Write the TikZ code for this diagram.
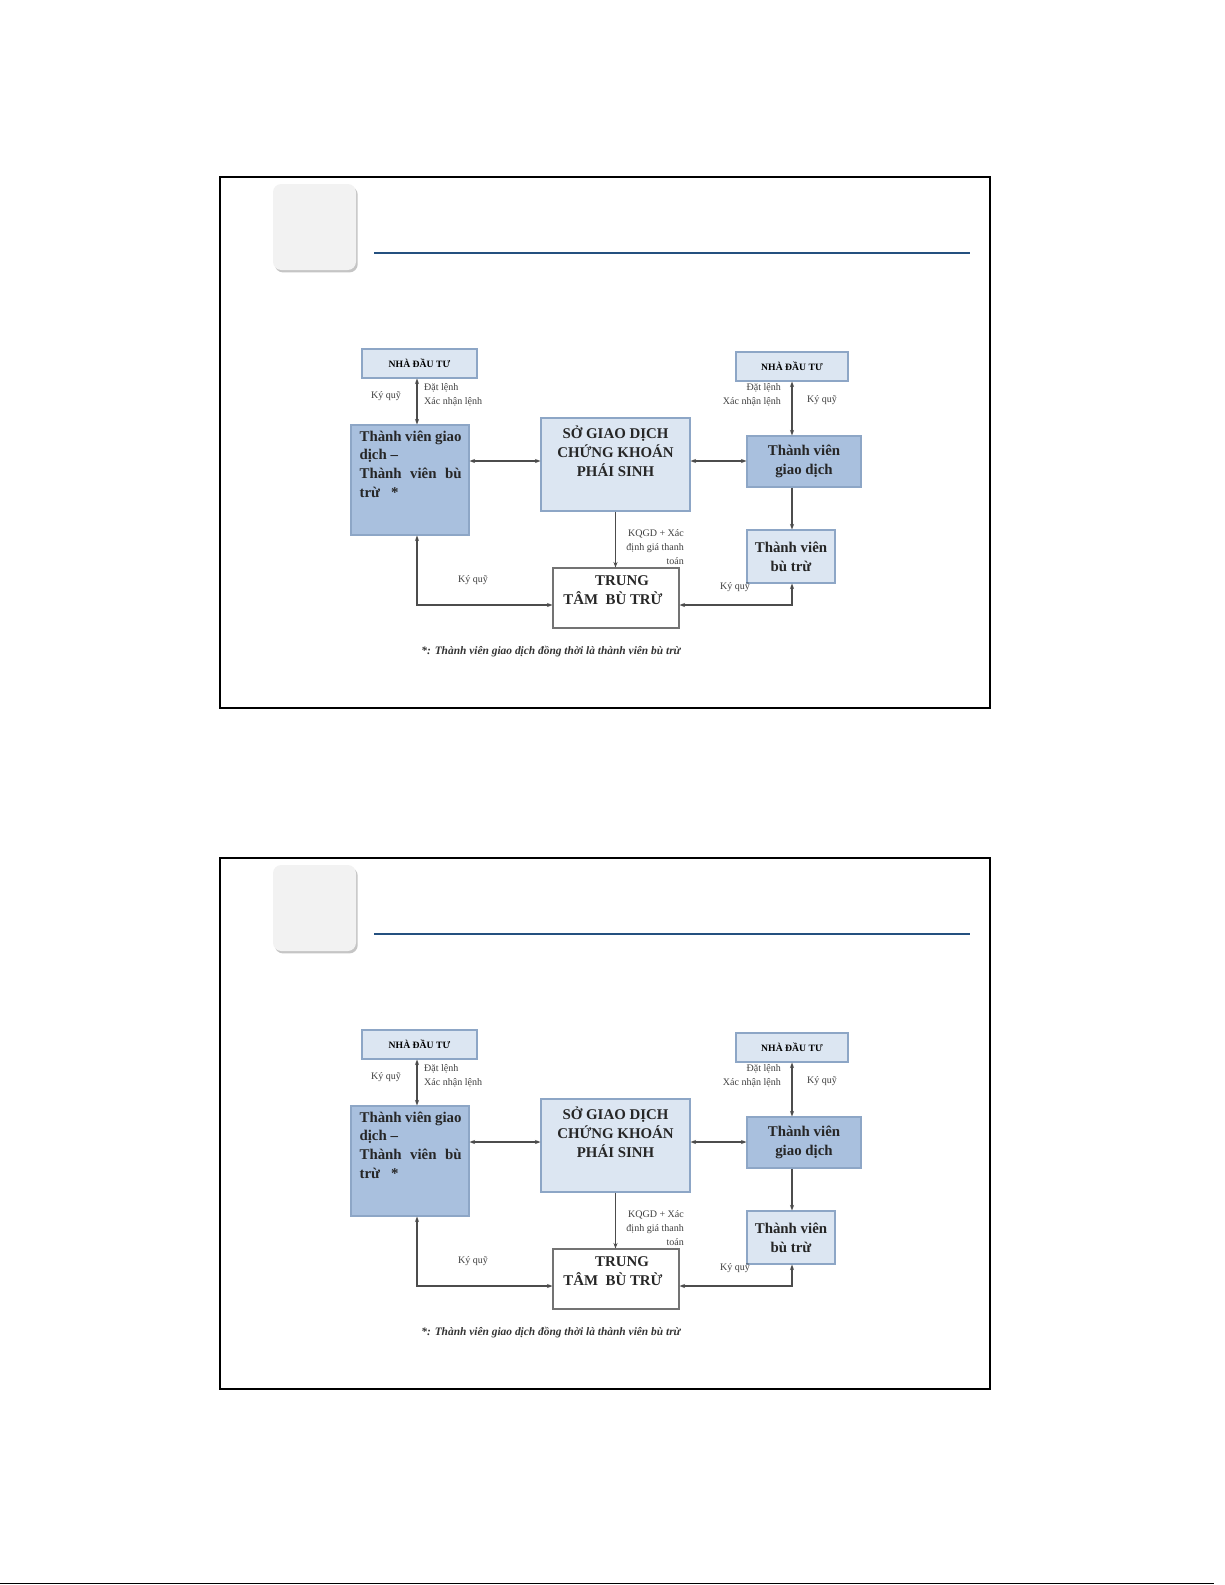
\documentclass[tikz,border=0pt]{standalone}
\usepackage{fontspec}
\setmainfont{Liberation Serif}
\usepackage{xcolor}
\usetikzlibrary{positioning,arrows.meta,shadows}

\definecolor{paleblue}{HTML}{DCE6F2}
\definecolor{midblue}{HTML}{A9C0DE}
\definecolor{edgeblue}{HTML}{8DA6C6}
\definecolor{rulecol}{HTML}{24507F}
\definecolor{tilecol}{HTML}{F2F2F2}
\newcommand{\pxu}{0.0508cm}

\tikzset{
  x=0.0508cm, y=-0.0508cm,
  box/.style={draw=edgeblue, line width=1.6pt, inner sep=0pt},
  bigtxt/.style={font=\fontsize{21.5}{27.3}\selectfont\bfseries, text=black!85, inner sep=0pt},
  smalltxt/.style={font=\fontsize{14.5}{20}\selectfont, text=black!75, inner sep=0pt},
  ndttxt/.style={font=\fontsize{14}{16}\selectfont\bfseries},
  link/.style={draw=black!70, line width=1.6pt, {Stealth[length=8pt,width=6pt]}-{Stealth[length=8pt,width=6pt]}},
  onelink/.style={draw=black!70, line width=1.6pt, -{Stealth[length=8pt,width=6pt]}}
}

\begin{document}
\begin{tikzpicture}
\fill[white] (0,0) rectangle (1225,1585);
% Bottom edge of the page
\draw[line width=1.6pt] (0,1583.5) -- (1214,1583.5);
\foreach \dy/\k in {0/a,681/b}{
\begin{scope}[shift={(0,\dy)}]
% Slide frame and title decoration
\draw[line width=2.4pt] (220,177) rectangle (990,708);
\fill[tilecol, rounded corners=12pt, drop shadow={shadow xshift=2.5pt, shadow yshift=-3.5pt, fill=black!45}] (273,184) rectangle (356,270);
\draw[rulecol, line width=4pt] (374,253) -- (970,253);
% Guide coordinates
\coordinate (xL\k) at (417,0);
\coordinate (xR\k) at (792,0);
\coordinate (yM\k) at (0,461);
\coordinate (yB\k) at (0,605);
% Boxes
\node[box, fill=paleblue, minimum width=115*\pxu, minimum height=29*\pxu, ndttxt] (ndtL\k) at (419.5,363.5) {NHÀ ĐẦU TƯ};
\node[box, fill=midblue, minimum width=118*\pxu, minimum height=110*\pxu] (tvL\k) at (410,480) {};
\node[bigtxt, anchor=north west, align=left] at ([shift={(9,6)}]tvL\k.north west) {\makebox[5.18cm][s]{Thành viên giao}\\dịch –\\\makebox[5.18cm][s]{Thành viên bù}\\trừ \ \ *};
\node[box, fill=paleblue, minimum width=149*\pxu, minimum height=93*\pxu] (sgd\k) at (615.5,464.5) {};
\node[bigtxt, align=center] at (615.5,451) {SỞ GIAO DỊCH\\CHỨNG KHOÁN\\PHÁI SINH};
\node[box, fill=paleblue, minimum width=112*\pxu, minimum height=29*\pxu, ndttxt] (ndtR\k) at (792,366.5) {NHÀ ĐẦU TƯ};
\node[box, fill=midblue, minimum width=114*\pxu, minimum height=51*\pxu, bigtxt, align=center] (tvgdR\k) at (804,461.5) {Thành viên\\giao dịch};
\node[box, fill=paleblue, minimum width=88*\pxu, minimum height=53*\pxu, bigtxt, align=center] (tvbtR\k) at (791,556.5) {Thành viên\\bù trừ};
\node[box, draw=black!55, fill=white, minimum width=126*\pxu, minimum height=60*\pxu] (ttbt\k) at (616,598) {};
\node[bigtxt, align=center] at (613,590.5) {\hspace*{26pt}TRUNG\\TÂM \ BÙ TRỪ};
% Connectors
\draw[link] (ndtL\k.south -| xL\k) -- (tvL\k.north -| xL\k);
\draw[link] (tvL\k.east |- yM\k) -- (sgd\k.west |- yM\k);
\draw[link] (sgd\k.east |- yM\k) -- (tvgdR\k.west |- yM\k);
\draw[link] (ndtR\k.south -| xR\k) -- (tvgdR\k.north -| xR\k);
\draw[onelink] (tvgdR\k.south -| xR\k) -- (tvbtR\k.north -| xR\k);
\draw[onelink] (sgd\k.south) -- (sgd\k.south |- ttbt\k.north);
\draw[link] (tvL\k.south -| xL\k) |- (ttbt\k.west |- yB\k);
\draw[link] (tvbtR\k.south -| xR\k) |- (ttbt\k.east |- yB\k);
% Labels
\node[smalltxt] (kqL\k) at (386,396) {Ký quỹ};
\node[smalltxt, anchor=west, align=left] (datL\k) at (424,395) {Đặt lệnh\\Xác nhận lệnh};
\node[smalltxt, anchor=east, align=right] (datR\k) at (781,395) {Đặt lệnh\\Xác nhận lệnh};
\node[smalltxt] (kqR\k) at (822,400) {Ký quỹ};
\node[smalltxt, anchor=east, align=right] (kqgd\k) at (684,547) {KQGD + Xác\\định giá thanh\\toán};
\node[smalltxt] (kqB1\k) at (473,580) {Ký quỹ};
\node[smalltxt] (kqB2\k) at (735,587) {Ký quỹ};
\node[font=\fontsize{16.5}{20}\selectfont\bfseries\itshape, text=black!80, inner sep=0pt] (note\k) at (551,652) {*: Thành viên giao dịch đồng thời là thành viên bù trừ};
\end{scope}
}
\pgfresetboundingbox
\useasboundingbox (0,0) rectangle (1225,1585);
\end{tikzpicture}
\end{document}
